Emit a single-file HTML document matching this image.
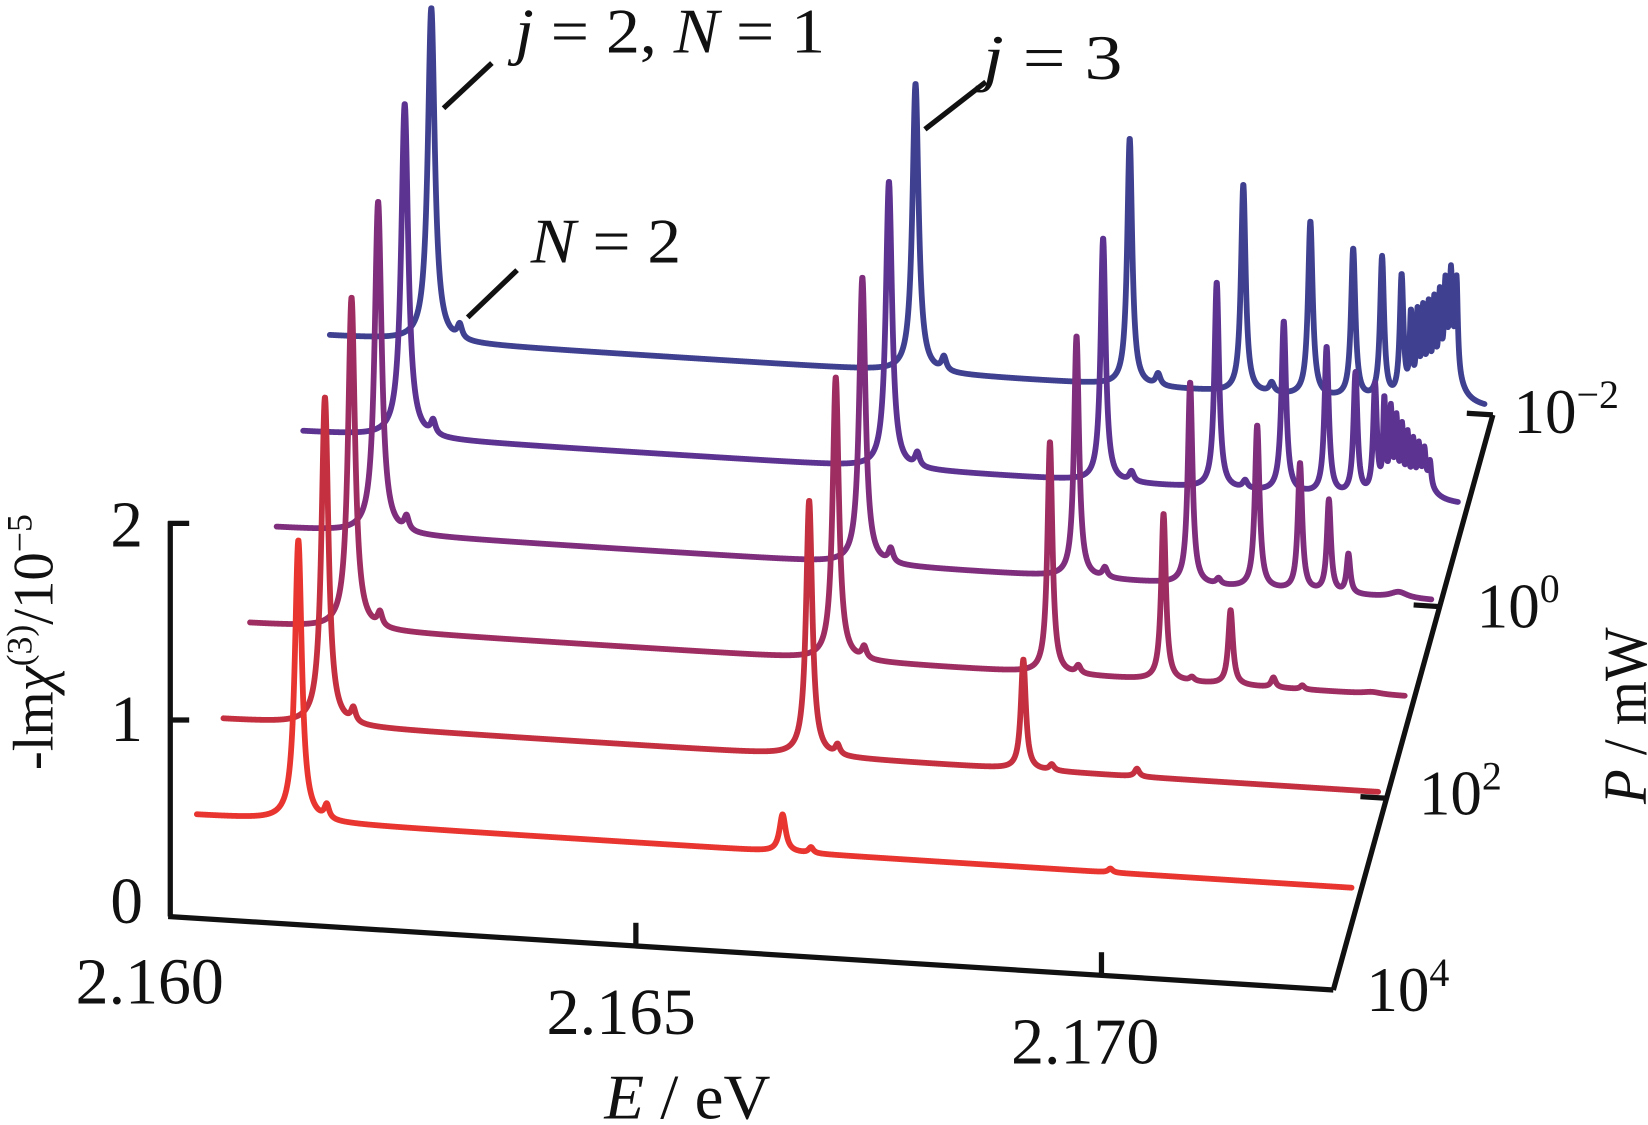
<!DOCTYPE html>
<html><head><meta charset="utf-8"><style>
html,body{margin:0;padding:0;background:#fff;}
svg{display:block;}
text{font-family:"Liberation Serif","Times New Roman",serif;fill:#111;}
</style></head><body>
<svg id="chart" font-family="'Liberation Serif', 'Times New Roman', serif" width="1648" height="1125" viewBox="0 0 1568 1070.4" preserveAspectRatio="none" xmlns="http://www.w3.org/2000/svg">
<g id="traces"></g>
<g id="axes" stroke="#111" stroke-width="5" fill="none"></g>
<g>
<text x="490" y="50" font-size="60" textLength="295" lengthAdjust="spacingAndGlyphs"><tspan font-style="italic">j</tspan> = 2, <tspan font-style="italic">N</tspan> = 1</text>
<text x="935" y="75" font-size="60" textLength="133" lengthAdjust="spacingAndGlyphs"><tspan font-style="italic">j</tspan> = 3</text>
<text x="505" y="250" font-size="60" textLength="143" lengthAdjust="spacingAndGlyphs"><tspan font-style="italic">N</tspan> = 2</text>
<line x1="422" y1="103" x2="468" y2="60" stroke="#111" stroke-width="5"/>
<line x1="880" y1="123" x2="938" y2="78" stroke="#111" stroke-width="5"/>
<line x1="445" y1="302" x2="492" y2="257" stroke="#111" stroke-width="5"/>
</g>
<g>
<text x="72" y="955" font-size="62" textLength="141" lengthAdjust="spacingAndGlyphs">2.160</text>
<text x="520" y="984" font-size="62" textLength="142" lengthAdjust="spacingAndGlyphs">2.165</text>
<text x="962" y="1012" font-size="62" textLength="141" lengthAdjust="spacingAndGlyphs">2.170</text>
<text x="575" y="1064" font-size="60" textLength="158" lengthAdjust="spacingAndGlyphs"><tspan font-style="italic">E</tspan> / eV</text>
<text x="105" y="520" font-size="62">2</text>
<text x="105" y="705" font-size="62">1</text>
<text x="105" y="878" font-size="62">0</text>
<text transform="translate(50,611) rotate(-90)" text-anchor="middle" font-size="54">-lm<tspan font-style="italic">χ</tspan><tspan font-size="34" dy="-20">(3)</tspan><tspan dy="20">/10</tspan><tspan font-size="34" dy="-20">−5</tspan></text>
<text x="1440" y="412" font-size="60">10<tspan font-size="38" dy="-24">−2</tspan></text>
<text x="1405" y="597" font-size="60">10<tspan font-size="38" dy="-24">0</tspan></text>
<text x="1350" y="775" font-size="60">10<tspan font-size="38" dy="-24">2</tspan></text>
<text x="1300" y="962" font-size="60">10<tspan font-size="38" dy="-24">4</tspan></text>
<text transform="translate(1566,765) rotate(-90)" font-size="58" textLength="168" lengthAdjust="spacingAndGlyphs"><tspan font-style="italic">P</tspan> / mW</text>
</g>
</svg>
<script>
// ---- data ----
const traceLogP = [3, 2, 1, 0, -1, -2];
const traceColors = ['#e8352f', '#c4303f', '#9e2d62', '#7e2e7c', '#5c3391', '#3f4090'];
const peakE = [2.16109, 2.16629, 2.16859, 2.16981, 2.17053, 2.17099, 2.17130, 2.17151,
  2.17161, 2.17168, 2.17174, 2.17180, 2.17186, 2.17192, 2.17198, 2.17204, 2.17210, 2.17205];
const peakWidth = [0.000045, 0.00004, 0.000032, 0.00003, 0.00003, 0.000028, 0.000026, 0.000024,
  0.000016, 0.000016, 0.000016, 0.000016, 0.000016, 0.000016, 0.000016, 0.000016, 0.000016, 0.00011];
const heightsP1e3  = [1.43, 0.19, 0.00, 0.02, 0, 0, 0, 0, 0, 0, 0, 0, 0, 0, 0, 0, 0, 0];
const heightsP1e2  = [1.67, 1.30, 0.56, 0.04, 0, 0, 0, 0, 0, 0, 0, 0, 0, 0, 0, 0, 0, 0];
const heightsP1e1  = [1.69, 1.44, 1.18, 0.85, 0.38, 0.05, 0.02, 0, 0, 0, 0, 0, 0, 0, 0, 0, 0, 0.01];
const heightsP1e0  = [1.69, 1.46, 1.23, 1.03, 0.83, 0.65, 0.47, 0.20, 0, 0, 0, 0, 0, 0, 0, 0, 0, 0.03];
const heightsP1em1 = [1.70, 1.46, 1.24, 1.05, 0.87, 0.75, 0.62, 0.56, 0.46, 0.41, 0.36, 0.32, 0.28, 0.24, 0.20, 0.16, 0.12, 0.09];
const heightsP1em2 = [1.70, 1.47, 1.26, 1.06, 0.89, 0.76, 0.72, 0.62, 0.40, 0.40, 0.41, 0.42, 0.43, 0.44, 0.45, 0.46, 0.47, 0.18];
const traceHeights = [heightsP1e3, heightsP1e2, heightsP1e1, heightsP1e0, heightsP1em1, heightsP1em2];
const satShift = 0.000305;
const satWidth = 0.00003;
const satHeights = [[0.07,0.03,0,0],[0.07,0.05,0.03,0],[0.07,0.06,0.04,0.02],[0.07,0.07,0.05,0.03],[0.07,0.07,0.05,0.04],[0.07,0.07,0.06,0.05]];
const baseOffset = [0.03, 0.03, 0.03, 0.03, 0.03, 0.03];
const eStart = 2.160, eEnd = 2.1724;
const yTicks = [0, 1, 2];
const xTicks = [2.165, 2.170];
const pTicks = [4, 2, 0, -2];

// ---- projection ----
const E0 = 2.160, EU = 0.005;
function X(E, d) { return 162 + (E - E0) / EU * 443 + d * 25.3; }
function Y(E, d, z) { return 872 + (E - E0) / EU * 28 - d * 91.2 - z * 187; }
function depth(logP) { return 4 - logP; }

const NS = 'http://www.w3.org/2000/svg';
const tg = document.getElementById('traces');
for (let t = traceLogP.length - 1; t >= 0; t--) {
  const d = depth(traceLogP[t]);
  const hs = traceHeights[t];
  let pts = [];
  for (let E = eStart; E <= eEnd + 1e-9; E += 0.000004) {
    let z = baseOffset[t];
    for (let k = 0; k < peakE.length; k++) {
      const g = peakWidth[k], u = (E - peakE[k]) / g;
      z += hs[k] / (1 + u * u);
    }
    for (let k = 0; k < satHeights[t].length; k++) {
      const u = (E - peakE[k] - satShift) / satWidth;
      z += satHeights[t][k] / (1 + u * u);
    }
    pts.push(X(E, d).toFixed(2) + ',' + Y(E, d, z).toFixed(2));
  }
  const p = document.createElementNS(NS, 'path');
  p.setAttribute('d', 'M' + pts.join('L'));
  p.setAttribute('fill', 'none');
  p.setAttribute('stroke', traceColors[t]);
  p.setAttribute('stroke-width', '5.5');
  p.setAttribute('stroke-linejoin', 'round');
  p.setAttribute('stroke-linecap', 'round');
  
  
  tg.appendChild(p);
}

const ag = document.getElementById('axes');
function line(x1, y1, x2, y2, name) {
  const l = document.createElementNS(NS, 'line');
  l.setAttribute('x1', x1); l.setAttribute('y1', y1);
  l.setAttribute('x2', x2); l.setAttribute('y2', y2);
  
  
  ag.appendChild(l);
}
const Eax = 2.17249;
line(X(E0, 0), Y(E0, 0, 0), X(E0, 0), Y(E0, 0, 2) - 2, 'y-axis-line');
yTicks.filter(v => v > 0).forEach(v => line(X(E0, 0) - 2, Y(E0, 0, v), X(E0, 0) + 18, Y(E0, 0, v), 'y-tick-mark'));
line(X(E0, 0) - 2, Y(E0, 0, 0), X(Eax, 0), Y(Eax, 0, 0), 'x-axis-line');
xTicks.forEach(v => line(X(v, 0), Y(v, 0, 0), X(v, 0), Y(v, 0, 0) - 22, 'x-tick-mark'));
line(X(Eax, 0), Y(Eax, 0, 0), X(Eax, depth(-2)), Y(Eax, depth(-2), 0), 'p-axis-line');
pTicks.filter(v => v < 4).forEach(v => line(X(Eax, depth(v)), Y(Eax, depth(v), 0), X(Eax - 0.00028, depth(v)), Y(Eax - 0.00028, depth(v), 0), 'p-tick-mark'));
</script>
</body></html>
